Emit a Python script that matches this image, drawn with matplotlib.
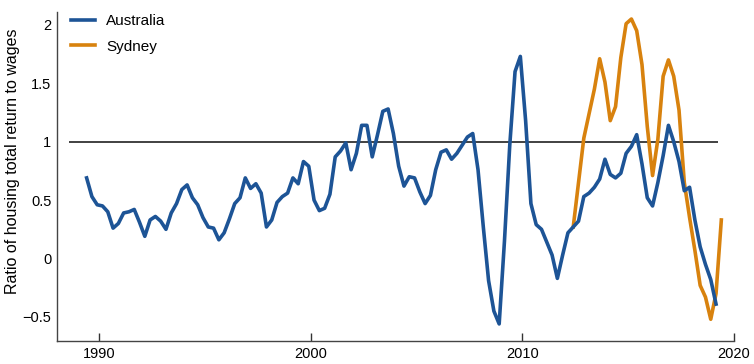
import numpy as np
import matplotlib
matplotlib.use("Agg")
import matplotlib.pyplot as plt
from matplotlib.ticker import FuncFormatter

plt.rcParams['font.family'] = ['Liberation Sans', 'DejaVu Sans']

# quarterly series, first quarter ~ mid 1989
start_year = 1989.4
australia = [0.69, 0.53, 0.46, 0.45, 0.40, 0.26, 0.30, 0.39, 0.40, 0.42,
             0.31, 0.19, 0.33, 0.36, 0.32, 0.25, 0.39, 0.47, 0.59, 0.63,
             0.52, 0.46, 0.35, 0.27, 0.26, 0.16, 0.22, 0.34, 0.47, 0.52,
             0.69, 0.60, 0.64, 0.56, 0.27, 0.33, 0.48, 0.53, 0.56, 0.69,
             0.64, 0.83, 0.79, 0.50, 0.41, 0.43, 0.55, 0.87, 0.92, 0.99,
             0.76, 0.90, 1.14, 1.14, 0.87, 1.06, 1.26, 1.28, 1.07, 0.79,
             0.62, 0.70, 0.69, 0.57, 0.47, 0.54, 0.76, 0.91, 0.93, 0.85,
             0.90, 0.97, 1.04, 1.07, 0.76, 0.27, -0.19, -0.45, -0.56, 0.15,
             0.97, 1.60, 1.73, 1.18, 0.47, 0.29, 0.25, 0.14, 0.03, -0.17,
             0.03, 0.22, 0.27, 0.32, 0.53, 0.56, 0.61, 0.68, 0.85, 0.72,
             0.69, 0.73, 0.90, 0.96, 1.06, 0.81, 0.52, 0.45, 0.65, 0.88,
             1.14, 1.00, 0.83, 0.58, 0.61, 0.33, 0.10, -0.05, -0.18, -0.39]
sydney_offset = 92  # quarters after start_year
sydney = [0.27, 0.65, 1.03, 1.24, 1.45, 1.71, 1.51, 1.18, 1.30, 1.72,
          2.01, 2.05, 1.95, 1.66, 1.13, 0.71, 1.02, 1.56, 1.70, 1.56,
          1.27, 0.65, 0.35, 0.07, -0.23, -0.33, -0.52, -0.30, 0.33]

yticks = [-0.5, 0, 0.5, 1, 1.5, 2]
xticks = [1990, 2000, 2010, 2020]

aus_x = start_year + 0.25 * np.arange(len(australia))
syd_x = start_year + 0.25 * (sydney_offset + np.arange(len(sydney)))

fig = plt.figure(figsize=(7.54, 3.64), dpi=100)
ax = fig.add_axes([0.0756, 0.0632, 0.8979, 0.9038])

ax.hlines(1, 1988.55, 2019.25, color='#333333', linewidth=1.3, zorder=1)
ax.plot(aus_x, australia, color='#1d5496', linewidth=2.6, label='Australia', zorder=3)
ax.plot(syd_x, sydney, color='#d8820e', linewidth=2.6, label='Sydney', zorder=2)

ax.set_xlim(1988, 2020)
ax.set_ylim(-0.706, 2.11)
ax.set_xticks(xticks)
ax.set_yticks(yticks)
ax.yaxis.set_major_formatter(FuncFormatter(lambda v, p: ('%g' % v).replace('-', '\u2212')))
ax.tick_params(axis='x', direction='in', length=6, width=1, color='#333333',
               labelsize=10.5, pad=4)
ax.tick_params(axis='y', length=0, labelsize=10.5, pad=4)

for s in ['top', 'right']:
    ax.spines[s].set_visible(False)
for s in ['left', 'bottom']:
    ax.spines[s].set_color('#444444')
    ax.spines[s].set_linewidth(1)

ax.set_ylabel('Ratio of housing total return to wages', fontsize=11.5)
ax.yaxis.set_label_coords(-0.054, 0.545)

ax.legend(loc='upper left', bbox_to_anchor=(0.0, 1.035), frameon=False,
          fontsize=11, handlelength=1.6, handletextpad=0.7, labelspacing=0.75)

fig.savefig('out.png', dpi=100)
